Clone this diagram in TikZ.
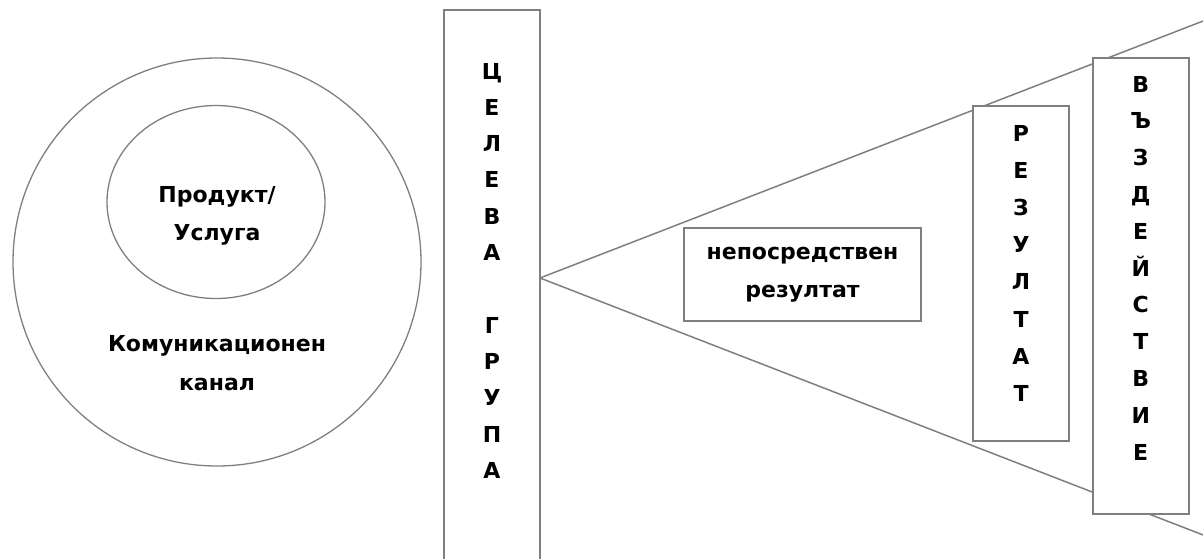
\documentclass[tikz,border=0pt]{standalone}
\usepackage{fontspec}
\setmainfont{DejaVu Sans}
\usetikzlibrary{shapes.geometric, positioning}
\definecolor{edgegray}{HTML}{7F7F7F}

\begin{document}
\begin{tikzpicture}[x=1pt, y=-1pt,
    frame/.style={draw=edgegray, line width=2pt, fill=white},
    ring/.style={draw=edgegray, line width=1.3pt},
    txt/.style={font=\bfseries\fontsize{22}{38.5}\selectfont, align=center},
    letter/.style={font=\bfseries\fontsize{22}{36}\selectfont, anchor=base, inner sep=0pt}]
  \useasboundingbox (0,0) rectangle (1203,558);
  \clip (0,0) rectangle (1203,558);

  % channel and product circles
  \node[ring, circle, minimum size=408pt] (chan) at (217,262) {};
  \node[ring, ellipse, minimum width=218pt, minimum height=193pt] (prod) at (216,202) {};
  \node[txt] (prod_txt) at (217,216) {Продукт/\\Услуга};
  \node[txt] (chan_txt) at (217,363) {Комуникационен\\канал};

  % lines fanning out from the target group
  \coordinate (apex) at (540,278);
  \coordinate (top_end) at (1215,16.4);
  \coordinate (bot_end) at (1215,539.6);
  \draw[edgegray, line width=1.5pt] (top_end) -- (apex) -- (bot_end);

  % target group column
  \node[frame, minimum width=96pt, minimum height=570pt] (grp) at (492,295) {};
  \foreach \ch/\k in {Ц/0,Е/1,Л/2,Е/3,В/4,А/5,Г/7,Р/8,У/9,П/10,А/11}
    \node[letter] (grp\k) at (492,79+36.3*\k) {\ch};

  % direct result
  \node[frame, txt, minimum width=237pt, minimum height=93pt] (direct) at (802.5,274.5) {непосредствен\\резултат};

  % result column
  \node[frame, minimum width=96pt, minimum height=335pt] (res) at (1021,273.5) {};
  \foreach \ch/\k in {Р/0,Е/1,З/2,У/3,Л/4,Т/5,А/6,Т/7}
    \node[letter] (res\k) at (1021,141+37.2*\k) {\ch};

  % impact column
  \node[frame, minimum width=96.5pt, minimum height=456pt] (impact) at (1140.75,286) {};
  \foreach \ch/\k in {В/0,Ъ/1,З/2,Д/3,Е/4,Й/5,С/6,Т/7,В/8,И/9,Е/10}
    \node[letter] (imp\k) at (1140.75,92+36.8*\k) {\ch};

\end{tikzpicture}
\end{document}
